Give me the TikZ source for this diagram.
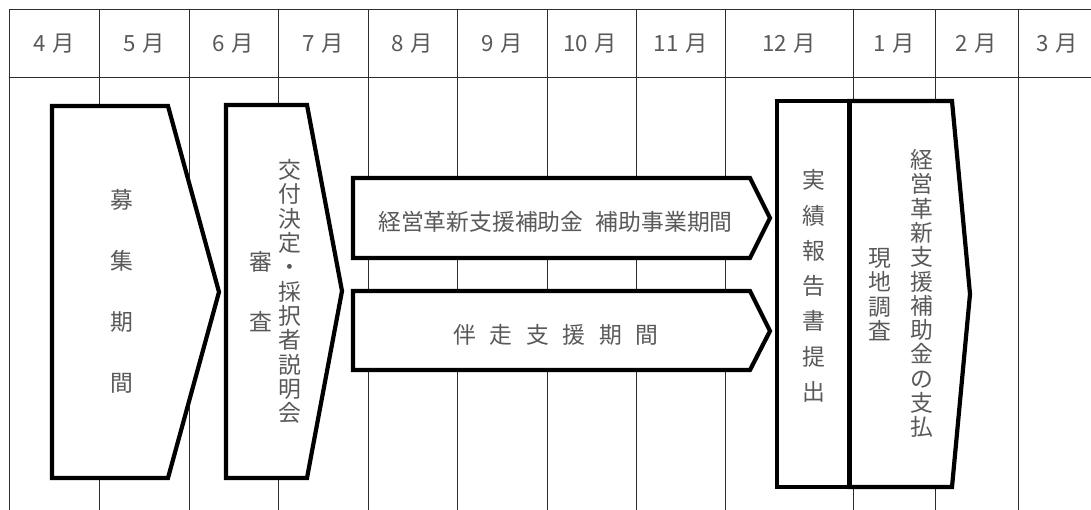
\documentclass[tikz,border=0pt]{standalone}
\usepackage{fontspec}
\setmainfont{Noto Sans CJK JP}
\definecolor{txt}{RGB}{89,89,89}
\definecolor{gridc}{RGB}{45,45,45}
\tikzset{
  gridline/.style={draw=gridc, line width=1pt},
  phase/.style={draw=black, line width=4.2pt, fill=white, line join=miter},
  lbl/.style={text=txt, inner sep=0pt, align=center, font=\fontsize{22.8}{24.3}\selectfont},
  vtext/.style={text=txt, inner sep=0pt, align=center, font=\fontsize{22.8}{#1}\selectfont},
  month/.style={text=txt, inner sep=0pt, font=\fontsize{22.3}{24}\selectfont},
}
\newcommand{\mon}[1]{#1\hspace{0.3em}月}
\begin{document}
\begin{tikzpicture}[x=1pt,y=-1pt]
\useasboundingbox (0,0) rectangle (1091,510);
\fill[white] (0,0) rectangle (1091,510);
% grid
\draw[gridline] (9,10) -- (1091,10);
\draw[gridline] (9,78) -- (1091,78);
\draw[gridline] (9,10) -- (9,510);
\foreach \x in {99,189,278,368,457,547,636,725,853,935,1018}
  \draw[gridline] (\x,10) -- (\x,510);
% month labels
\node[month] (m4)  at (54,44)   {\mon{4}};
\node[month] (m5)  at (144,44)  {\mon{5}};
\node[month] (m6)  at (233.5,44) {\mon{6}};
\node[month] (m7)  at (323,44)  {\mon{7}};
\node[month] (m8)  at (412.5,44) {\mon{8}};
\node[month] (m9)  at (502,44)  {\mon{9}};
\node[month] (m10) at (590,44)  {\mon{10}};
\node[month] (m11) at (680.5,44) {\mon{11}};
\node[month] (m12) at (789,44)  {\mon{12}};
\node[month] (m1)  at (894,44)  {\mon{1}};
\node[month] (m2)  at (976.5,44) {\mon{2}};
\node[month] (m3)  at (1057,44) {\mon{3}};
% phase shapes
\draw[phase] (52,106) -- (168,106) -- (219,292) -- (168,478) -- (52,478) -- cycle;
\draw[phase] (226,105) -- (307,105) -- (342,291) -- (307,478) -- (226,478) -- cycle;
\draw[phase] (353,178) -- (750,178) -- (770,218) -- (750,258) -- (353,258) -- cycle;
\draw[phase] (353,291) -- (750,291) -- (770,331) -- (750,370) -- (353,370) -- cycle;
\draw[phase] (849.5,101) -- (952,101) -- (970,294) -- (952,487) -- (849.5,487) -- cycle;
\draw[phase] (777,101) rectangle (849.5,487);
% texts
\node[vtext=61] (boshu) at (122,291.5) {募\\集\\期\\間};
\node[vtext=60] (shinsa) at (261,292) {審\\査};
\node[vtext=24.3] (kofu) at (289.5,291.5) {交\\付\\決\\定\\・\\採\\択\\者\\説\\明\\会};
\node[lbl] (hojo) at (555.5,222) {経営革新支援補助金\hspace{0.55em}補助事業期間};
\node[lbl] (bansou) at (556,335) {伴\hspace{13.6pt}走\hspace{13.6pt}支\hspace{13.6pt}援\hspace{13.6pt}期\hspace{13.6pt}間};
\node[vtext=35.3] (jisseki) at (814,286) {実\\績\\報\\告\\書\\提\\出};
\node[vtext=24.3] (genchi) at (880,294.5) {現\\地\\調\\査};
\node[vtext=24.3] (shiharai) at (921.5,293.5) {経\\営\\革\\新\\支\\援\\補\\助\\金\\の\\支\\払};
\end{tikzpicture}
\end{document}
